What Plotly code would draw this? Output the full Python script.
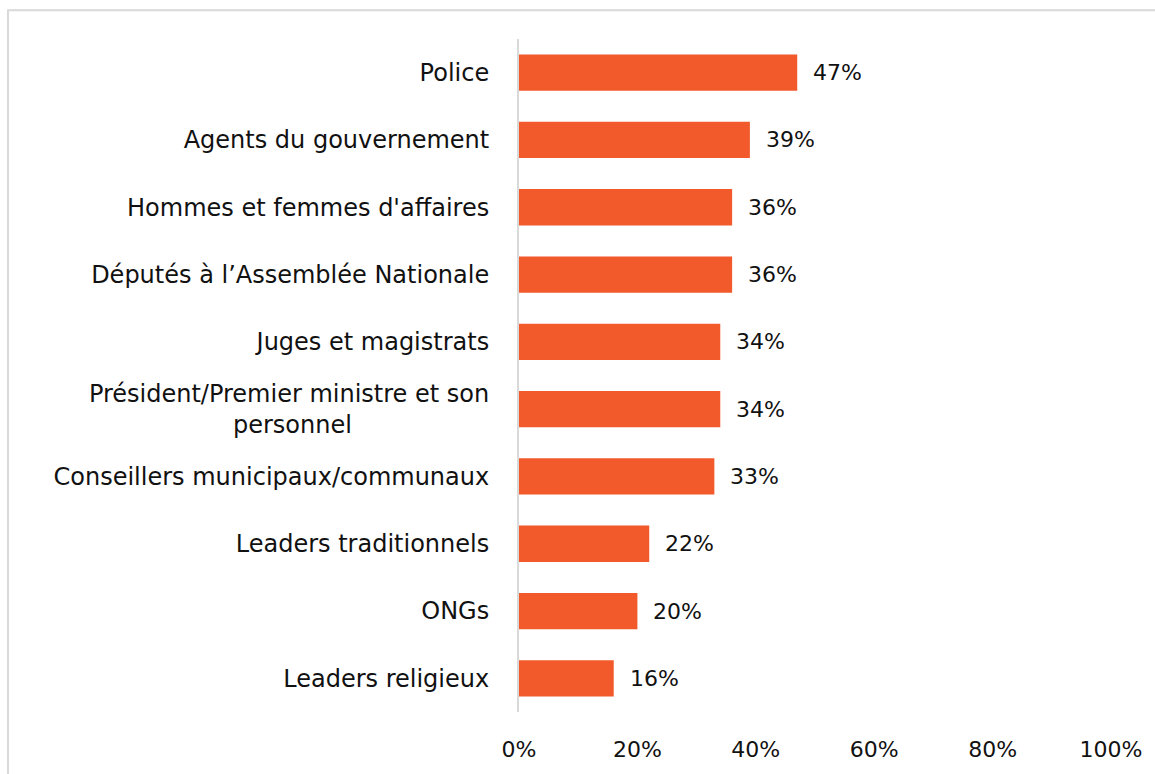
import plotly.graph_objects as go

categories = [
    "Police",
    "Agents du gouvernement",
    "Hommes et femmes d'affaires",
    "Députés à l’Assemblée Nationale",
    "Juges et magistrats",
    "Président/Premier ministre et son<br>personnel" + "\u00a0" * 18,
    "Conseillers municipaux/communaux",
    "Leaders traditionnels",
    "ONGs",
    "Leaders religieux",
]
values = [0.47, 0.39, 0.36, 0.36, 0.34, 0.34, 0.33, 0.22, 0.20, 0.16]
value_labels = ["47%", "39%", "36%", "36%", "34%", "34%", "33%", "22%", "20%", "16%"]
x_tickvals = [0, 0.2, 0.4, 0.6, 0.8, 1.0]
x_ticktext = ["0%", "20%", "40%", "60%", "80%", "100%"]

FONT = "DejaVu Sans, sans-serif"
FSIZE = 22
CAT_FSIZE = 24
BAR_COLOR = "#F2592B"
TEXT_COLOR = "#111111"

W, H = 1155, 774
L, R, T, B = 519, 44, 39, 57

fig = go.Figure()
fig.add_trace(go.Bar(
    y=categories,
    x=values,
    orientation="h",
    marker=dict(color=BAR_COLOR, line=dict(width=0)),
    width=0.54,
    hoverinfo="skip",
))

for cat, v, lab in zip(categories, values, value_labels):
    fig.add_annotation(
        x=v, y=cat, text=lab, showarrow=False,
        xanchor="left", yanchor="middle", xshift=14,
        font=dict(family=FONT, size=FSIZE, color=TEXT_COLOR),
    )

# outer frame: only the left and top edges are visible in the reference
pw = W - L - R
ph = H - T - B
fx0 = (8 - L) / pw
fx1 = (W + 10 - L) / pw
fy_top = (H - B - 10) / ph
fy_bot = -(B + 10) / ph
fig.add_shape(
    type="path", xref="paper", yref="paper",
    path=f"M {fx0},{fy_bot} L {fx0},{fy_top} L {fx1},{fy_top}",
    line=dict(color="#D9D9D9", width=2), layer="below",
)

fig.update_layout(
    width=W, height=H,
    margin=dict(l=L, r=R, t=T, b=B),
    paper_bgcolor="white", plot_bgcolor="white",
    showlegend=False,
    font=dict(family=FONT, size=FSIZE, color=TEXT_COLOR),
)
fig.update_xaxes(
    range=[0, 1.0], tickvals=x_tickvals, ticktext=x_ticktext,
    showgrid=False, zeroline=False, showline=False,
    ticks="outside", ticklen=0, ticklabelstandoff=18,
    tickfont=dict(family=FONT, size=FSIZE, color=TEXT_COLOR),
)
fig.update_yaxes(
    categoryorder="array", categoryarray=categories[::-1],
    autorange=False, range=[-0.5, 9.5],
    showgrid=False, zeroline=False,
    showline=True, linecolor="#D9D9D9", linewidth=2,
    ticks="outside", ticklen=0, ticklabelstandoff=23,
    tickfont=dict(family=FONT, size=CAT_FSIZE, color=TEXT_COLOR),
)

fig.write_html(
    "out.html",
    config={"displayModeBar": False},
    post_script="document.body.style.margin='0';document.body.style.overflow='hidden';",
)
